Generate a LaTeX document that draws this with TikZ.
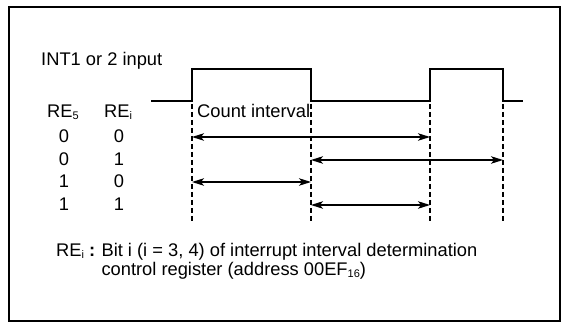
\documentclass[tikz,border=0pt]{standalone}
\usepackage{fontspec}
\setmainfont{Liberation Sans}
\usetikzlibrary{arrows.meta,calc}
\newcommand\sbs[1]{\raisebox{-1.2pt}{\fontsize{11}{11}\selectfont #1}}
\begin{document}
\begin{tikzpicture}[x=1pt,y=-1pt,
  txt/.style={inner sep=0pt,font=\fontsize{18.3}{20}\selectfont},
  wave/.style={line width=2pt,line join=miter},
  guide/.style={line width=1.2pt,dash pattern=on 5pt off 3pt},
  span/.style={line width=1.3pt,{Stealth[length=12pt,width=7.5pt,inset=3pt]}-{Stealth[length=12pt,width=7.5pt,inset=3pt]}},
  frame/.style={line width=2.2pt}]
\useasboundingbox (0,0) rectangle (563,334);
\draw[frame] (9,7) rectangle (560,321);
% waveform
\coordinate (w0) at (151,101);
\coordinate (t1) at (192,101);
\coordinate (t2) at (311,101);
\coordinate (t3) at (430,101);
\coordinate (t4) at (503,101);
\coordinate (w9) at (523,101);
\draw[wave] (w0) -- (t1) -- ++(0,-32) -- ($(t2)+(0,-32)$) -- (t2) -- (t3) -- ++(0,-32) -- ($(t4)+(0,-32)$) -- (t4) -- (w9);
% dashed guides
\foreach \t in {t1,t2,t3,t4}{
  \coordinate (\t d) at ($(\t)+(0,3)$);
  \coordinate (\t e) at ($(\t)+(0,120)$);
  \draw[guide] (\t d) -- (\t e);
}
% labels
\node[txt,anchor=base west] (inp) at (41,66) {INT1 or 2 input};
\node[txt,anchor=base west] (re5) at (47,118) {RE\sbs{5}};
\node[txt,anchor=base west] (rei) at (104,118) {RE\sbs{i}};
\node[txt,anchor=base west] (cnt) at (197,118) {Count interval};
\foreach \r/\a/\b/\y in {0/0/0/143,1/0/1/166,2/1/0/188,3/1/1/211}{
  \node[txt,anchor=base] (c1r\r) at (64,\y) {\a};
  \node[txt,anchor=base] (c2r\r) at (119,\y) {\b};
}
% arrows
\coordinate (a0l) at (192,137); \coordinate (a0r) at (430,137);
\coordinate (a1l) at (311,160); \coordinate (a1r) at (503,160);
\coordinate (a2l) at (192,182); \coordinate (a2r) at (311,182);
\coordinate (a3l) at (311,205); \coordinate (a3r) at (430,205);
\draw[span] (a0l) -- (a0r);
\draw[span] (a1l) -- (a1r);
\draw[span] (a2l) -- (a2r);
\draw[span] (a3l) -- (a3r);
% footnote
\node[txt,anchor=base west] (fnlab) at (56,257) {RE\sbs{i}\kern5pt\textbf{:}\kern6pt};
\node[txt,anchor=base west] (fn1) at (fnlab.base east) {Bit i (i = 3, 4) of interrupt interval determination};
\node[txt,anchor=base west] (fn2) at ($(fn1.base west)+(0,19)$) {control register (address 00EF\sbs{16})};
\end{tikzpicture}
\end{document}
